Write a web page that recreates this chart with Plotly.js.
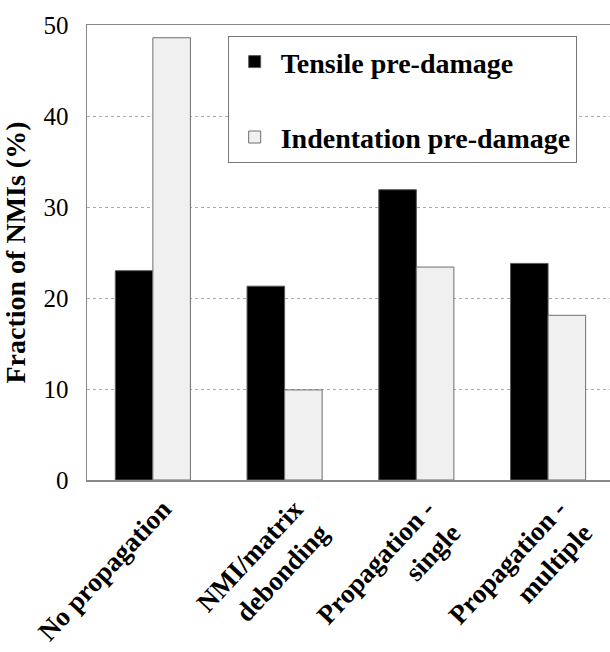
<!DOCTYPE html>
<html>
<head>
<meta charset="utf-8">
<script src="https://cdn.plot.ly/plotly-3.0.1.min.js"></script>
<style>html,body{margin:0;padding:0;background:#fff;}#chart{width:610px;height:652px;}</style>
</head>
<body>
<div id="chart"></div>
<script>
const categories = ["No propagation", "NMI/matrix<br>debonding", "Propagation -<br>single", "Propagation -<br>multiple"];
const tensileValues = [23.0, 21.3, 31.9, 23.8];
const indentationValues = [48.6, 9.9, 23.4, 18.1];
const seriesNames = ["Tensile pre-damage", "Indentation pre-damage"];
const yTickValues = [0, 10, 20, 30, 40, 50];

const serif = "Times New Roman";

const traces = [
  {
    type: "bar", name: seriesNames[0], x: categories, y: tensileValues,
    marker: {color: "#000000", line: {color: "#5a5a5a", width: 1}},
    legendgroup: "a"
  },
  {
    type: "bar", name: seriesNames[1], x: categories, y: indentationValues,
    marker: {color: "#f0f0f0", line: {color: "#6e6e6e", width: 1}},
    legendgroup: "b"
  }
];

const layout = {
  width: 610, height: 652,
  margin: {l: 87, r: 0, t: 25, b: 172},
  paper_bgcolor: "#ffffff", plot_bgcolor: "#ffffff",
  barmode: "group",
  bargap: 0.43, bargroupgap: 0,
  font: {family: serif, color: "#000"},
  xaxis: {
    type: "category",
    range: [-0.5, 3.47],
    showline: true, linecolor: "#888", linewidth: 1.5, mirror: true,
    showgrid: false, ticks: "",
    tickangle: -47,
    ticklabelshift: 10,
    ticklabelstandoff: 1,
    tickfont: {family: serif, size: 27, weight: "bold", color: "#000"}
  },
  yaxis: {
    range: [0, 50],
    tickvals: yTickValues,
    showline: true, linecolor: "#888", linewidth: 1.5,
    showgrid: true, gridcolor: "#aaaaaa", griddash: "3px,3px", gridwidth: 1,
    zeroline: false, ticks: "",
    ticklabelstandoff: 12,
    tickfont: {family: serif, size: 25, color: "#000"},
    title: {text: "<b>Fraction of NMIs (%)</b>", font: {family: serif, size: 28, color: "#000"}, standoff: 12}
  },
  legend: {
    x: 0.269, y: 0.976, xanchor: "left", yanchor: "top",
    bgcolor: "#ffffff", bordercolor: "#777", borderwidth: 1,
    font: {family: serif, size: 28, weight: "bold", color: "#000"},
    traceorder: "grouped", tracegroupgap: 36,
    itemwidth: 42
  },
  showlegend: true
};

Plotly.newPlot("chart", traces, layout, {displayModeBar: false, staticPlot: true});
</script>
</body>
</html>
